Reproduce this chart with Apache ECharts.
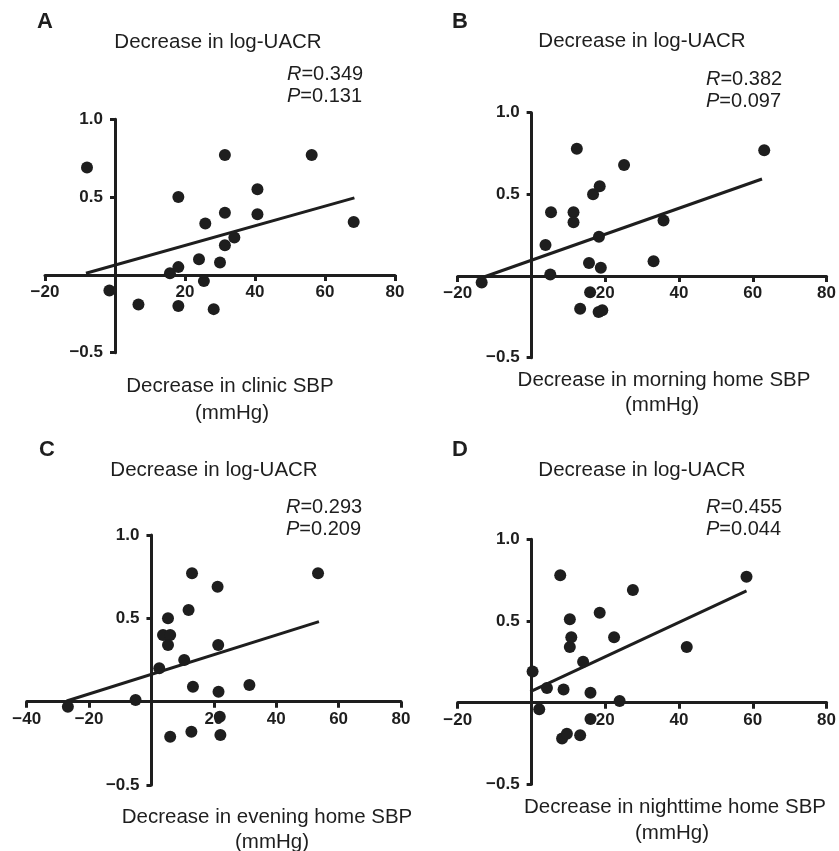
<!DOCTYPE html>
<html>
<head>
<meta charset="utf-8">
<script src="https://cdn.jsdelivr.net/npm/echarts@6/dist/echarts.min.js"></script>
<style>
  html, body { margin: 0; padding: 0; background: #fff; }
  #main { width: 839px; height: 851px; }
</style>
</head>
<body>
<div id="main"></div>
<script>
// panel A - clinic SBP
var clinicX = [-8.0, -1.6, 6.7, 15.7, 18.1, 18.1, 18.1, 24.0, 25.4, 25.8, 28.2, 30.0, 31.4, 31.4, 31.4, 34.1, 40.7, 40.7, 56.2, 68.2];
var clinicY = [0.69, -0.10, -0.19, 0.01, 0.05, 0.50, -0.20, 0.10, -0.04, 0.33, -0.22, 0.08, 0.77, 0.40, 0.19, 0.24, 0.55, 0.39, 0.77, 0.34];
var clinicFit = [[-8.3, 0.011], [68.4, 0.495]];

// panel B - morning home SBP
var morningX = [-13.5, 3.8, 5.1, 5.3, 11.4, 11.4, 12.3, 13.2, 15.6, 15.9, 16.7, 18.3, 18.5, 18.8, 18.2, 19.2, 25.1, 33.1, 35.8, 63.1];
var morningY = [-0.04, 0.19, 0.01, 0.39, 0.39, 0.33, 0.78, -0.20, 0.08, -0.10, 0.50, 0.24, 0.55, 0.05, -0.22, -0.21, 0.68, 0.09, 0.34, 0.77];
var morningFit = [[-12.9, -0.006], [62.5, 0.594]];

// panel C - evening home SBP
var eveningX = [-26.8, -5.1, 2.5, 3.7, 6.0, 5.3, 5.3, 6.0, 10.5, 11.9, 12.8, 13.0, 13.3, 21.2, 21.4, 21.5, 21.9, 22.1, 31.4, 53.4];
var eveningY = [-0.03, 0.01, 0.20, 0.40, 0.40, 0.50, 0.34, -0.21, 0.25, 0.55, -0.18, 0.77, 0.09, 0.69, 0.34, 0.06, -0.09, -0.20, 0.10, 0.77];
var eveningFit = [[-27.2, 0.004], [53.7, 0.480]];

// panel D - nighttime home SBP
var nightX = [0.3, 2.1, 4.2, 7.8, 8.3, 8.7, 9.6, 10.4, 10.4, 10.8, 13.2, 14.0, 16.0, 16.0, 18.5, 22.4, 23.9, 27.5, 42.1, 58.3];
var nightY = [0.19, -0.04, 0.09, 0.78, -0.22, 0.08, -0.19, 0.51, 0.34, 0.40, -0.20, 0.25, 0.06, -0.10, 0.55, 0.40, 0.01, 0.69, 0.34, 0.77];
var nightFit = [[-0.3, 0.067], [58.3, 0.684]];

var letters = ['A', 'B', 'C', 'D'];
var rValues = ['0.349', '0.382', '0.293', '0.455'];
var pValues = ['0.131', '0.097', '0.209', '0.044'];
var xNames = ['Decrease in clinic SBP', 'Decrease in morning home SBP', 'Decrease in evening home SBP', 'Decrease in nighttime home SBP'];
var xMins = [-20, -20, -40, -20];
var xMax = 80, yMin = -0.5, yMax = 1.0;

var ink = '#1e1e1e';
var font = '"Liberation Sans", Arial, sans-serif';

function zip(xs, ys) {
    return xs.map(function (x, i) { return [x, ys[i]]; });
}
var points = [zip(clinicX, clinicY), zip(morningX, morningY), zip(eveningX, eveningY), zip(nightX, nightY)];
var fits = [clinicFit, morningFit, eveningFit, nightFit];

// grid boxes
var grids = [
    { left: 45, top: 119.3, width: 350, height: 233.4 },
    { left: 457.7, top: 112.7, width: 369.6, height: 245 },
    { left: 26.7, top: 535, width: 374.3, height: 250 },
    { left: 457.7, top: 539.3, width: 369.6, height: 245 }
];

// text positions
var textPos = [
    { letter: [37, 22], title: [218, 42], rp: [287, 73], xl: [230, 386], mm: [232, 413] },
    { letter: [452, 22], title: [642, 41], rp: [706, 78], xl: [664, 380], mm: [662, 405] },
    { letter: [39, 450], title: [214, 470], rp: [286, 506], xl: [267, 817], mm: [272, 842] },
    { letter: [452, 450], title: [642, 470], rp: [706, 506], xl: [675, 807], mm: [672, 833] }
];

function minus(v, digits) {
    if (v === 0) return '';
    var s = digits ? Math.abs(v).toFixed(digits) : String(Math.abs(v));
    return (v < 0 ? '\u2212' : '') + s;
}

var xAxes = [], yAxes = [], series = [], graphics = [];

grids.forEach(function (g, i) {
    // axes cross at zero: shift them in from the grid edge
    var xOff = -g.height * (0 - yMin) / (yMax - yMin);
    var yOff = -g.width * (0 - xMins[i]) / (xMax - xMins[i]);
    xAxes.push({
        type: 'value', gridIndex: i, min: xMins[i], max: xMax, interval: 20,
        position: 'bottom', offset: xOff,
        splitLine: { show: false },
        axisLine: { onZero: false, lineStyle: { color: ink, width: 3 } },
        axisTick: { length: 6, lineStyle: { color: ink, width: 3 } },
        axisLabel: {
            color: ink, fontSize: 17, fontWeight: 'bold', fontFamily: font, margin: 9,
            formatter: function (v) { return minus(v); }
        }
    });
    yAxes.push({
        type: 'value', gridIndex: i, min: yMin, max: yMax, interval: 0.5,
        position: 'left', offset: yOff,
        splitLine: { show: false },
        axisLine: { onZero: false, lineStyle: { color: ink, width: 3 } },
        axisTick: { length: 5, lineStyle: { color: ink, width: 3 } },
        axisLabel: {
            color: ink, fontSize: 17, fontWeight: 'bold', fontFamily: font, margin: 12,
            formatter: function (v) { return minus(v, 1); }
        }
    });
    series.push({
        type: 'line', xAxisIndex: i, yAxisIndex: i, data: fits[i],
        showSymbol: false, silent: true, z: 3,
        lineStyle: { color: ink, width: 3 }
    });
    series.push({
        type: 'scatter', xAxisIndex: i, yAxisIndex: i, data: points[i],
        symbolSize: 12, z: 4,
        itemStyle: { color: ink, opacity: 1 }
    });

    var t = textPos[i];
    graphics.push({
        type: 'text', x: t.letter[0], y: t.letter[1],
        style: { text: letters[i], fill: ink, font: 'bold 22px ' + font, align: 'left', verticalAlign: 'middle' }
    });
    graphics.push({
        type: 'text', x: t.title[0], y: t.title[1],
        style: { text: 'Decrease in log-UACR', fill: ink, font: '20.5px ' + font, align: 'center', verticalAlign: 'middle' }
    });
    graphics.push({
        type: 'text', x: t.rp[0], y: t.rp[1] - 10,
        style: {
            text: '{i|R}{n|=' + rValues[i] + '}\n{i|P}{n|=' + pValues[i] + '}',
            fill: ink, fontSize: 20, fontFamily: font, align: 'left', verticalAlign: 'top', lineHeight: 22,
            rich: {
                i: { fontStyle: 'italic', fontSize: 20, fontFamily: font, fill: ink, lineHeight: 22 },
                n: { fontSize: 20, fontFamily: font, fill: ink, lineHeight: 22 }
            }
        }
    });
    graphics.push({
        type: 'text', x: t.xl[0], y: t.xl[1],
        style: { text: xNames[i], fill: ink, font: '20.5px ' + font, align: 'center', verticalAlign: 'middle' }
    });
    graphics.push({
        type: 'text', x: t.mm[0], y: t.mm[1],
        style: { text: '(mmHg)', fill: ink, font: '20.5px ' + font, align: 'center', verticalAlign: 'middle' }
    });
});

var myChart = echarts.init(document.getElementById('main'));
var option = {
    backgroundColor: '#fff',
    animation: false,
    grid: grids,
    xAxis: xAxes,
    yAxis: yAxes,
    series: series,
    graphic: graphics
};
myChart.setOption(option);
</script>
</body>
</html>
